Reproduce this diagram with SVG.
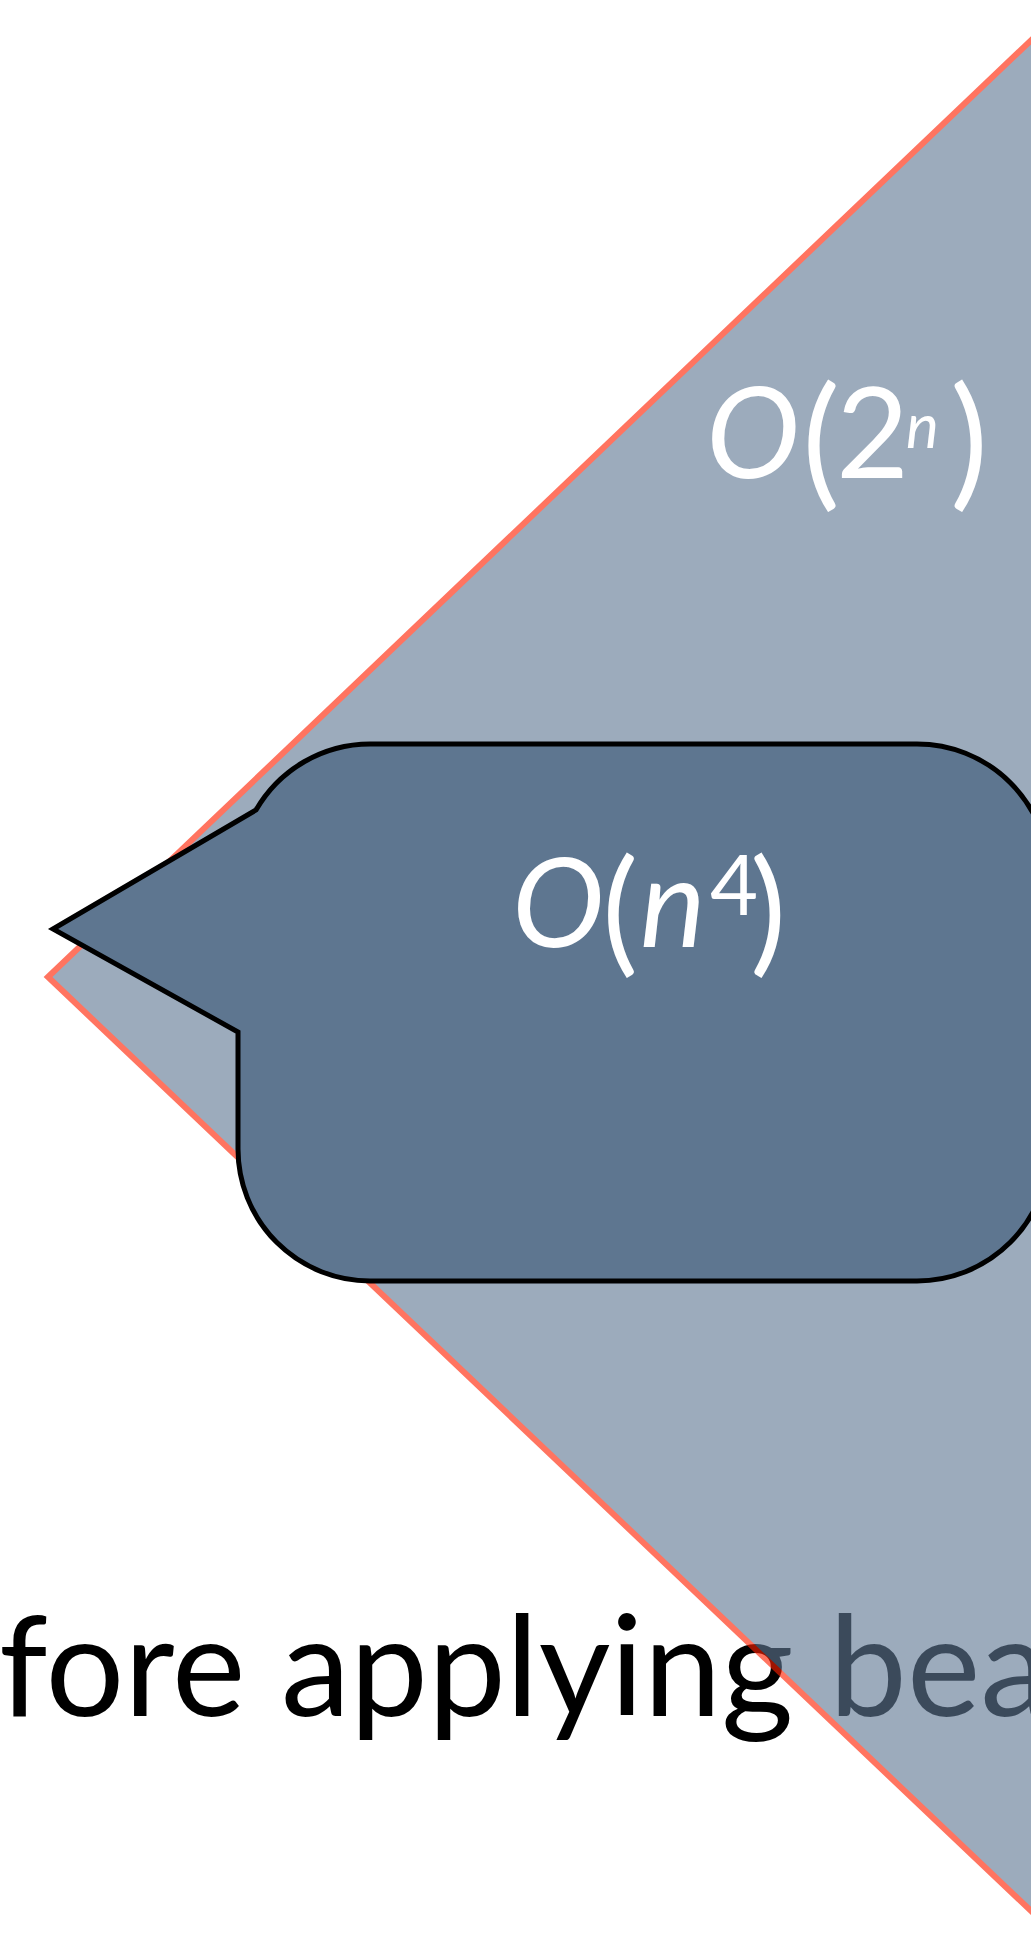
<svg xmlns="http://www.w3.org/2000/svg" width="1031" height="1934" viewBox="0 0 1031 1934">
  <style>
    .caption { font-family: Lato, "Open Sans", "Liberation Sans", sans-serif; font-size: 139px; fill: #000000; }
    .lbl { font-family: Lato, "Open Sans", "Liberation Sans", sans-serif; fill: #ffffff; }
    .it { font-style: italic; }
  </style>
  <rect x="0" y="0" width="1031" height="1934" fill="#ffffff"/>
  <g id="caption">
    <text class="caption" x="-1" y="1716">fore applying beam</text>
  </g>
  <g id="triangle" opacity="0.62">
    <polygon points="48,977 1131,-55 1131,2006" fill="#607894" stroke="#ff2000" stroke-width="6" stroke-linejoin="miter"/>
  </g>
  <g id="label-2n">
    <text class="lbl" y="478" font-size="126"><tspan class="it" x="706">O</tspan><tspan x="802" y="491" font-size="143">(</tspan><tspan x="836" y="478" font-size="126">2</tspan><tspan class="it" x="906" y="448" font-size="62">n</tspan><tspan x="950" y="491" font-size="143">)</tspan></text>
  </g>
  <g id="bubble">
    <path d="M 53 929 L 256 810 A 132 132 0 0 1 370 744 L 917 744 A 132 132 0 0 1 1049 876 L 1049 1149 A 132 132 0 0 1 917 1281 L 370 1281 A 132 132 0 0 1 238 1149 L 238 1032 Z" fill="#5e7690" stroke="#000000" stroke-width="5" stroke-linejoin="miter"/>
    <text class="lbl" y="947" font-size="124"><tspan class="it" x="512">O</tspan><tspan x="602" y="958" font-size="136">(</tspan><tspan class="it" x="640" y="947" font-size="124">n</tspan><tspan x="710" y="915" font-size="83">4</tspan><tspan x="750" y="958" font-size="136">)</tspan></text>
  </g>
  <g id="connectors"/>
</svg>
